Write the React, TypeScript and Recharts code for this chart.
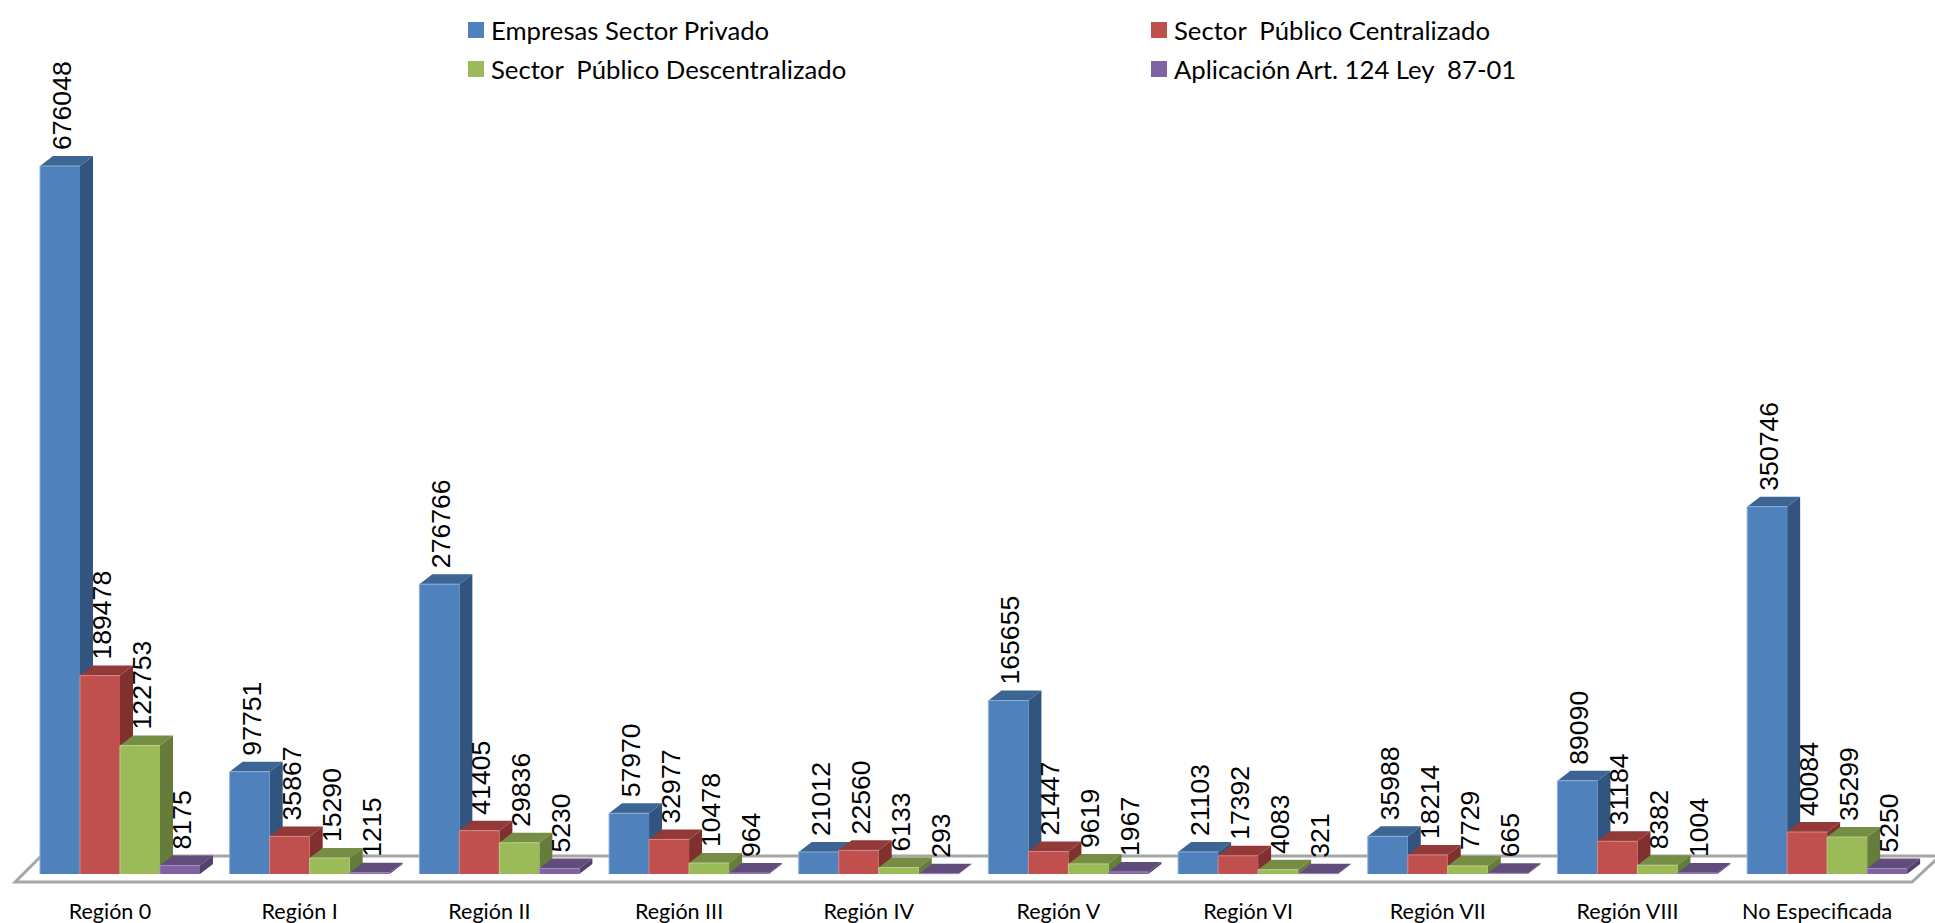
import { BarChart, Bar, XAxis, YAxis, Legend, LabelList, usePlotArea } from "recharts";

const regions = ["Región 0", "Región I", "Región II", "Región III", "Región IV", "Región V", "Región VI", "Región VII", "Región VIII", "No Especificada"];
const privado = [676048, 97751, 276766, 57970, 21012, 165655, 21103, 35988, 89090, 350746];
const centralizado = [189478, 35867, 41405, 32977, 22560, 21447, 17392, 18214, 31184, 40084];
const descentralizado = [122753, 15290, 29836, 10478, 6133, 9619, 4083, 7729, 8382, 35299];
const aplicacion = [8175, 1215, 5230, 964, 293, 1967, 321, 665, 1004, 5250];

const data = regions.map((name, i) => ({
  name,
  privado: privado[i],
  centralizado: centralizado[i],
  descentralizado: descentralizado[i],
  aplicacion: aplicacion[i],
}));

const DX = 13;
const DY = 10;

const makeBar = (front: string, top: string, side: string, edge: string) => (props: any) => {
  const { x, y, width, height } = props;
  const r = x + width;
  const b = y + height;
  return (
    <g>
      <polygon points={`${x},${y} ${x + DX},${y - DY} ${r + DX},${y - DY} ${r},${y}`} fill={top} />
      <polygon points={`${r},${y} ${r + DX},${y - DY} ${r + DX},${b - DY} ${r},${b}`} fill={side} />
      <rect x={x} y={y} width={width} height={height} fill={front} />
      <path d={`M${x},${b} L${x},${y} L${r},${y}`} fill="none" stroke={edge} strokeWidth={1} />
    </g>
  );
};

const ValueLabel = (props: any) => {
  const { x, y, width, value } = props;
  const lx = x + width / 2 + 2;
  const ly = y - 16;
  return (
    <text
      x={lx}
      y={ly}
      transform={`rotate(-90 ${lx} ${ly})`}
      textAnchor="start"
      dominantBaseline="central"
      fontFamily="Liberation Sans"
      fontSize={26.6}
      fill="#000"
    >
      {value}
    </text>
  );
};

// the slanted floor under the bars
const Floor = () => {
  const plot = usePlotArea();
  if (!plot) return null;
  const base = plot.y + plot.height;
  const l = plot.x;
  const r = plot.x + plot.width;
  return (
    <polygon
      points={`${l - 10},${base + 8} ${l + 16},${base - 18} ${r + 18},${base - 18} ${r - 10},${base + 8}`}
      fill="#fff"
      stroke="#a6a6a6"
      strokeWidth={3}
    />
  );
};

const renderLegend = ({ payload }: any) => (
  <div style={{ display: "grid", gridTemplateColumns: "683px 500px", rowGap: 15, fontFamily: "Lato", fontSize: 25.7, color: "#000" }}>
    {payload.map((p: any) => (
      <div key={p.value} style={{ display: "flex", alignItems: "center", height: 24, whiteSpace: "pre" }}>
        <span style={{ width: 16, height: 16, background: p.color, marginRight: 7 }} />
        {p.value}
      </div>
    ))}
  </div>
);

export default function App() {
  return (
    <div style={{ position: "absolute", left: 0, top: 0 }}>
      <BarChart
        width={1935}
        height={923}
        data={data}
        margin={{ top: 36.2, right: 13, bottom: 0, left: 25.17 }}
        barGap={0}
        barCategoryGap={14.83}
      >
        <Floor />
        <XAxis
          dataKey="name"
          height={49}
          axisLine={false}
          tickLine={false}
          interval={0}
          tickMargin={24}
          tick={{ fill: "#000", fontSize: 21.5, fontFamily: "Lato", dx: -10 }}
        />
        <YAxis hide domain={[0, 800000]} />
        <Legend
          content={renderLegend}
          itemSorter={null}
          verticalAlign="middle"
          wrapperStyle={{ left: 468, top: 18, width: 1190 }}
        />
        <Bar dataKey="privado" name="Empresas Sector Privado" fill="#4F81BD" isAnimationActive={false} shape={makeBar("#4F81BD", "#3C6594", "#32557F", "#8FAFD6")}>
          <LabelList dataKey="privado" content={ValueLabel} />
        </Bar>
        <Bar dataKey="centralizado" name="Sector  Público Centralizado" fill="#C0504D" isAnimationActive={false} shape={makeBar("#C0504D", "#933A38", "#80312F", "#D08A88")}>
          <LabelList dataKey="centralizado" content={ValueLabel} />
        </Bar>
        <Bar dataKey="descentralizado" name="Sector  Público Descentralizado" fill="#9BBB59" isAnimationActive={false} shape={makeBar("#9BBB59", "#758E43", "#667C3A", "#B9D08A")}>
          <LabelList dataKey="descentralizado" content={ValueLabel} />
        </Bar>
        <Bar dataKey="aplicacion" name="Aplicación Art. 124 Ley  87-01" fill="#8064A2" isAnimationActive={false} shape={makeBar("#8064A2", "#614C7B", "#553F6C", "#A38CC0")}>
          <LabelList dataKey="aplicacion" content={ValueLabel} />
        </Bar>
      </BarChart>
    </div>
  );
}
